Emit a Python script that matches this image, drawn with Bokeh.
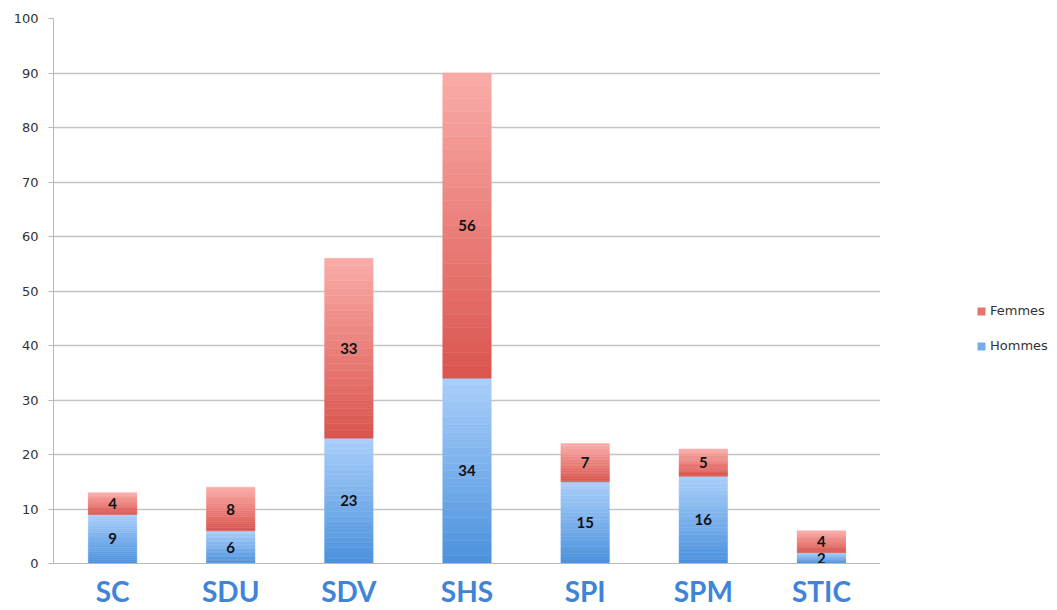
import numpy as np
from bokeh.plotting import figure
from bokeh.layouts import row
from bokeh.models import (ColumnDataSource, FactorRange, Range1d, FixedTicker,
                          Legend, LegendItem)
from bokeh.core.properties import value
from bokeh.embed import file_html
from bokeh.resources import INLINE

categories = ["SC", "SDU", "SDV", "SHS", "SPI", "SPM", "STIC"]
hommes = [9, 6, 23, 34, 15, 16, 2]
femmes = [4, 8, 33, 56, 7, 5, 4]
series_names = ["Femmes", "Hommes"]
y_ticks = list(range(0, 101, 10))

BLUE_TOP, BLUE_BOT = (170, 207, 250), (74, 145, 220)
RED_TOP, RED_BOT = (250, 172, 168), (218, 84, 78)
N = 24
BAR_W = 0.41


def hexc(c):
    return "#%02x%02x%02x" % tuple(int(round(v)) for v in c)


def mix(a, b, f):
    return hexc([a[k] + (b[k] - a[k]) * f for k in range(3)])


def gradient(bottoms, tops, ctop, cbot):
    xs, b, t, cols = [], [], [], []
    for cat, lo, hi in zip(categories, bottoms, tops):
        edges = np.linspace(lo, hi, N + 1)
        for i in range(N):
            f = (i + 0.5) / N  # 0 bottom -> 1 top
            xs.append(cat)
            b.append(edges[i])
            t.append(edges[i + 1])
            cols.append(mix(cbot, ctop, f))
    return ColumnDataSource(dict(x=xs, bottom=b, top=t, color=cols))


p = figure(x_range=FactorRange(*categories), y_range=Range1d(0, 100),
           width=880, height=610, output_backend="svg", toolbar_location=None,
           min_border_left=53, min_border_right=0, min_border_top=18,
           min_border_bottom=47)
p.outline_line_color = None
p.background_fill_color = "white"

tot = [h + f for h, f in zip(hommes, femmes)]
src_h = gradient([0] * len(hommes), hommes, BLUE_TOP, BLUE_BOT)
src_f = gradient(hommes, tot, RED_TOP, RED_BOT)
p.vbar(x="x", bottom="bottom", top="top", width=BAR_W, color="color",
       line_color="color", line_width=0.5, source=src_h)
p.vbar(x="x", bottom="bottom", top="top", width=BAR_W, color="color",
       line_color="color", line_width=0.5, source=src_f)

# value labels
lab = ColumnDataSource(dict(
    x=categories + categories,
    y=[h / 2 for h in hommes] + [h + f / 2 for h, f in zip(hommes, femmes)],
    t=[str(v) for v in hommes] + [str(v) for v in femmes]))
p.text(x="x", y="y", text="t", source=lab, text_align="center",
       text_baseline="middle", text_font=value("Lato"),
       text_font_style="bold", text_font_size="15px", text_color="#111111")

# axes
p.yaxis.ticker = FixedTicker(ticks=y_ticks)
p.yaxis.axis_line_color = "#b8b8b8"
p.yaxis.major_tick_line_color = "#b8b8b8"
p.yaxis.major_tick_out = 5
p.yaxis.major_tick_in = 0
p.yaxis.minor_tick_line_color = None
p.yaxis.major_label_text_font = "DejaVu Sans"
p.yaxis.major_label_text_font_size = "13px"
p.yaxis.major_label_text_color = "#333333"
p.yaxis.major_label_standoff = 10

p.xaxis.axis_line_color = "#b8b8b8"
p.xaxis.major_tick_line_color = None
p.xaxis.minor_tick_line_color = None
p.xaxis.major_tick_out = 0
p.xaxis.major_tick_in = 0
p.xaxis.major_label_text_font = "Lato"
p.xaxis.major_label_text_font_style = "bold"
p.xaxis.major_label_text_font_size = "28px"
p.xaxis.major_label_text_color = "#4084d8"
p.xaxis.major_label_standoff = 10

p.xgrid.grid_line_color = None
p.ygrid.grid_line_color = "#c4c4c4"
p.ygrid.grid_line_width = 1.5

# legend panel
q = figure(width=177, height=610, x_range=Range1d(0, 1), y_range=Range1d(0, 1),
           output_backend="svg", toolbar_location=None,
           min_border_left=0, min_border_right=0, min_border_top=0,
           min_border_bottom=0)
q.axis.visible = False
q.grid.visible = False
q.outline_line_color = None
rf = q.quad(left=[5], right=[6], top=[6], bottom=[5],
            fill_color=mix(RED_BOT, RED_TOP, 0.35), line_color=None)
rh = q.quad(left=[5], right=[6], top=[6], bottom=[5],
            fill_color=mix(BLUE_BOT, BLUE_TOP, 0.45), line_color=None)
legend = Legend(items=[LegendItem(label=series_names[0], renderers=[rf]),
                       LegendItem(label=series_names[1], renderers=[rh])],
                location=(96, 210), border_line_color=None,
                background_fill_alpha=0, label_text_font="DejaVu Sans",
                label_text_font_size="13px", label_text_color="#333333",
                glyph_width=10, glyph_height=10, spacing=20, padding=0,
                label_standoff=4, margin=0)
q.add_layout(legend, "center")

open("out.html", "w").write(file_html(row(p, q), INLINE))
